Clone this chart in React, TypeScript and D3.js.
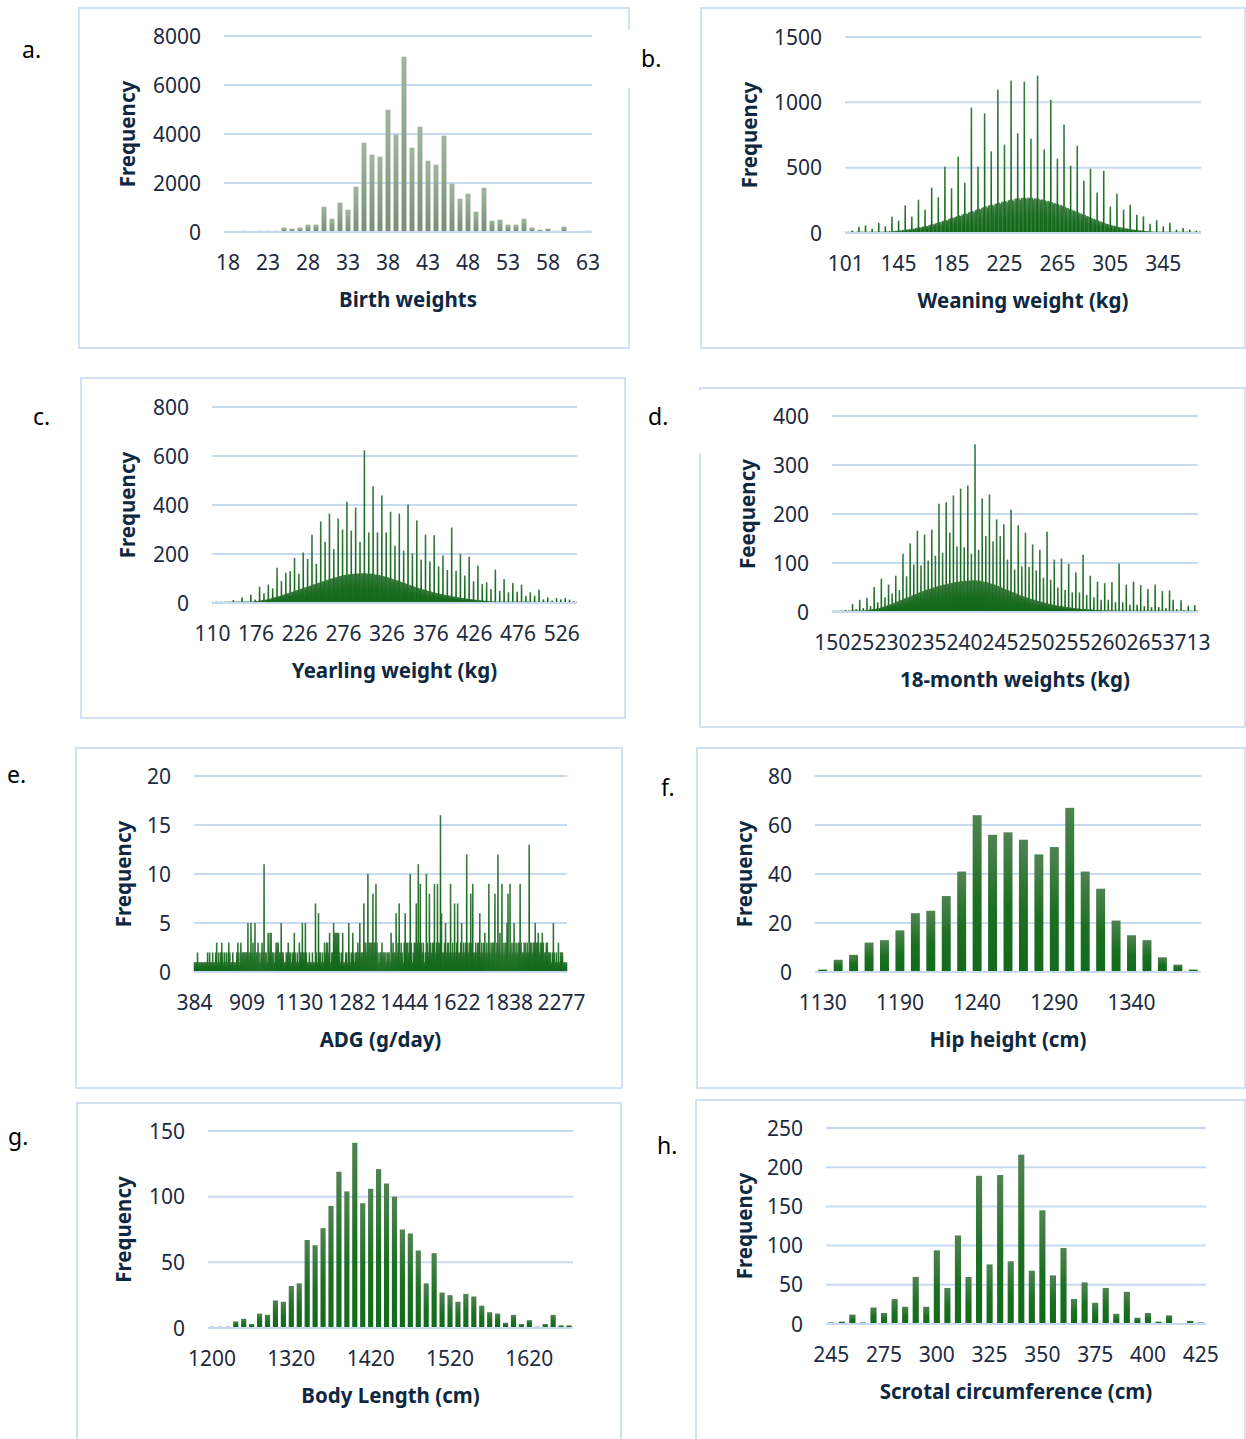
import React from 'react';
import * as d3 from 'd3';

// ---------- DATA ----------
const birthFreq = [0,0,30,0,20,20,20,177,136,177,300,300,1034,544,1197,911,1850,3646,3156,3075,4993,3973,7156,3442,4299,2911,2748,3932,1973,1360,1565,830,1810,463,503,300,300,544,177,95,136,54,218,0,0,54];
const birthTicks = ['18','23','28','33','38','43','48','53','58','63'];

const weanFreq = [
3,0,1,0,2,18,1,0,2,3,
48,2,4,1,3,59,2,5,3,4,
33,6,4,8,5,79,7,9,6,10,
51,12,10,14,11,125,15,13,18,16,
94,20,18,24,22,212,27,25,30,28,
125,34,31,38,40,255,44,42,48,50,
179,55,52,60,64,347,68,66,74,78,
273,84,82,90,95,508,100,96,108,112,
342,118,115,124,128,584,135,130,140,146,
385,150,146,158,162,959,168,160,175,180,
508,186,180,192,198,916,204,196,210,214,
625,216,208,222,228,1097,232,224,238,240,
676,244,236,250,254,1166,256,246,262,264,
763,266,256,268,270,1158,270,260,272,268,
722,270,258,266,264,1204,262,252,258,254,
640,250,240,246,240,1020,236,226,230,224,
569,220,210,214,206,829,200,190,192,184,
515,180,170,172,164,668,158,150,150,142,
401,138,128,130,122,492,116,108,108,100,
309,96,88,88,82,477,76,70,70,64,
202,60,56,56,52,301,48,44,44,40,
179,38,34,34,31,217,28,26,26,24,
140,22,20,20,18,128,16,15,14,13,
71,12,11,10,9,99,9,8,7,7,
51,6,5,5,4,79,4,3,3,3,
26,2,2,3,1,38,2,1,1,2,
26,1,0,1,1,18,0,1,2];
const weanTicks = ['101','145','185','225','265','305','345'];

const yearFreq = [
1,0,0,0,2,0,1,0,0,1,
0,1,0,0,5,0,1,0,2,1,
1,0,2,1,12,1,0,2,1,3,
2,1,3,2,23,2,3,1,4,6,
3,4,2,5,34,4,6,5,7,14,
6,8,7,9,67,10,9,12,11,40,
12,14,13,15,75,16,18,17,20,60,
21,23,22,25,144,26,28,27,30,90,
32,34,33,36,124,38,40,39,42,130,
44,46,45,48,184,50,52,51,54,120,
56,58,57,60,206,62,64,63,66,180,
68,70,69,72,279,74,76,75,78,160,
80,82,81,84,333,86,88,87,90,250,
92,94,93,96,365,98,100,98,102,220,
104,105,103,106,345,108,110,108,112,300,
113,114,112,115,414,116,117,115,118,296,
118,119,117,120,390,121,120,118,121,250,
120,121,119,122,623,122,120,118,121,288,
119,120,117,119,476,118,116,114,116,288,
114,114,111,113,439,111,109,107,108,288,
106,105,102,103,373,101,98,96,97,234,
94,93,90,91,365,88,86,84,84,214,
82,80,78,78,402,75,73,71,71,203,
69,67,65,65,337,63,61,59,59,177,
57,56,54,54,279,52,50,49,49,170,
47,46,44,44,277,42,41,40,40,150,
38,37,36,36,194,34,33,32,32,135,
31,30,29,29,308,27,26,26,25,132,
24,23,23,22,200,21,20,20,19,112,
18,18,17,17,189,16,15,15,14,89,
14,13,13,12,153,12,11,11,10,78,
10,9,9,9,85,8,8,7,7,57,
7,6,6,6,136,5,5,5,5,50,
4,4,4,4,98,3,3,3,3,44,
3,3,2,2,82,2,2,2,2,46,
2,2,1,2,75,1,1,2,1,30,
1,1,1,1,44,1,0,1,1,30,
1,0,1,0,55,1,0,0,1,15,
0,1,0,1,23,0,0,1,0,10,
1,0,0,0,20,0,1,0,0,15,
0,0,1,0,20,0,0,0,1,14,
0,0,0,1,7,0,0,1];
const yearTicks = ['110','176','226','276','326','376','426','476','526'];

const m18Freq = [
1,0,0,1,0,0,1,0,2,0,
0,1,0,2,0,1,0,0,4,1,
1,0,1,3,1,0,2,1,16,1,
2,1,1,6,2,1,2,2,25,2,
2,3,2,8,3,2,3,4,29,3,
4,3,5,12,4,5,6,5,51,6,
6,7,6,20,7,8,8,9,68,9,
10,11,10,30,12,12,13,14,56,14,
15,16,15,38,17,18,18,19,74,20,
21,22,21,45,23,24,24,25,119,26,
27,28,27,73,29,30,30,31,140,32,
33,34,33,97,35,36,36,37,166,38,
39,40,39,95,41,42,42,43,158,44,
45,46,44,105,46,47,47,48,168,49,
50,50,49,115,51,52,52,52,221,53,
54,54,52,121,55,56,55,56,224,57,
57,58,56,162,58,59,58,59,238,60,
60,61,59,134,61,62,61,62,252,62,
63,63,61,132,63,64,62,63,258,64,
64,64,62,119,64,65,63,64,342,64,
64,64,62,127,63,64,62,62,232,62,
62,61,60,155,60,61,59,59,240,58,
58,57,56,144,56,56,54,54,189,53,
53,52,50,155,50,50,48,48,179,47,
46,46,44,107,44,44,42,42,209,41,
40,40,38,87,38,38,36,36,177,35,
34,34,33,93,32,32,31,31,162,30,
29,29,28,92,27,27,26,26,138,25,
25,24,24,85,23,23,22,22,127,21,
21,20,20,70,19,19,18,18,164,17,
17,16,16,66,15,15,15,14,107,14,
14,13,13,50,13,12,12,12,109,11,
11,11,10,45,10,10,10,9,98,9,
9,9,8,40,8,8,8,8,81,7,
7,7,7,40,7,6,6,6,117,6,
6,6,5,35,5,5,5,5,74,5,
5,5,4,30,4,4,4,4,62,4,
4,4,4,25,4,3,3,3,59,3,
3,3,3,25,3,3,3,3,61,3,
3,3,2,20,3,2,2,3,99,2,
2,3,2,20,2,2,2,2,56,2,
2,2,2,15,2,2,1,2,62,2,
2,1,2,15,1,2,1,2,55,1,
1,2,1,12,1,1,2,1,47,1,
1,1,1,10,1,2,1,1,56,1,
1,1,1,10,1,1,1,0,43,1,
1,0,1,8,1,1,0,1,44,1,
0,1,1,25,1,0,1,0,6,1,
1,0,1,0,24,1,0,1,4,0,
1,0,1,0,13,1,0,1,2,1,
0,1,0,14,1,0,1,2];
const m18Ticks = ['150','252','302','352','402','452','502','552','602','653','713'];

const adgFreq = [
1,1,1,2,1,1,1,1,1,1,
1,1,1,2,1,2,1,1,2,1,
1,2,3,1,2,1,2,3,2,1,
2,1,2,1,3,2,1,1,2,1,
1,1,2,3,2,1,3,2,2,2,
2,2,2,5,2,2,5,2,3,2,
5,2,2,3,2,1,2,3,2,11,
2,2,1,4,2,4,4,2,2,1,
2,3,3,3,2,2,5,2,2,1,
1,2,2,3,2,2,1,2,2,4,
2,1,2,1,3,2,2,5,2,2,
5,2,1,1,2,1,1,2,1,1,
7,2,1,6,2,2,1,2,1,3,
2,3,3,2,4,1,2,2,5,4,
4,4,4,4,2,1,2,4,1,1,
2,2,1,5,2,1,2,4,2,1,
2,2,3,2,5,2,2,2,7,3,
3,2,10,3,3,3,3,8,3,3,
9,3,2,1,2,2,3,2,2,2,
1,2,2,2,1,4,2,3,2,2,
6,2,3,7,2,3,2,1,3,6,
3,3,2,3,10,3,1,2,3,3,
7,3,11,3,9,3,2,3,1,2,
10,3,2,8,3,2,3,3,9,2,
3,9,3,3,16,6,2,2,3,5,
2,3,3,2,9,2,3,2,7,2,
3,7,2,2,3,5,2,3,2,3,
12,3,2,3,8,3,9,2,2,3,
2,3,3,6,2,3,2,3,4,2,
3,2,9,3,2,3,3,3,8,2,
3,12,3,4,2,9,3,2,3,3,
5,8,2,9,3,2,3,5,2,3,
2,3,3,9,3,2,2,3,3,2,
3,2,13,3,3,2,3,3,5,3,
3,4,2,3,3,4,3,2,2,3,
3,2,2,2,1,2,5,2,1,2,
1,3,1,2,2,2,1,1,1,1];
const adgTicks = ['384','909','1130','1282','1444','1622','1838','2277'];

const hipFreq = [1,5,7,12,13,17,24,25,31,41,64,56,57,54,48,51,67,41,34,21,15,13,6,3,1];
const hipTicks = ['1130','1190','1240','1290','1340'];

const bodyFreq = [1,1,1,5,7,3,11,10,21,20,32,34,67,63,76,93,119,104,141,95,106,121,110,100,75,72,59,34,57,27,25,20,26,24,17,12,11,4,10,3,6,1,3,10,2,2];
const bodyTicks = ['1200','1320','1420','1520','1620'];

const scrotalFreq = [2,3,12,2,21,14,32,22,60,22,94,46,113,60,189,76,190,80,216,68,145,62,97,32,53,27,46,13,41,8,14,3,11,0,4,2];
const scrotalTicks = ['245','275','300','325','350','375','400','425'];

// ---------- LAYOUT ----------
type PanelCfg = {
  letter: string; lx: number; ly: number;
  frame: [number, number, number, number];
  x0: number; x1: number; yTop: number; yBottom: number;
  yMax: number; yTicks: number[];
  values: number[]; ticks: string[]; tickStep: number;
  dense: boolean; pad: number; grad: string;
  xTitle: string; yTitle: string; yTitleX: number;
};

const panels: PanelCfg[] = [
  { letter: 'a.', lx: 22, ly: 58, frame: [79, 8, 550, 340], x0: 224, x1: 592, yTop: 36, yBottom: 232,
    yMax: 8000, yTicks: [0, 2000, 4000, 6000, 8000], values: birthFreq, ticks: birthTicks, tickStep: 5,
    dense: false, pad: 0.38, grad: 'gSage', xTitle: 'Birth weights', yTitle: 'Frequency', yTitleX: 128 },
  { letter: 'b.', lx: 641, ly: 67, frame: [701, 8, 544, 340], x0: 845, x1: 1201, yTop: 37, yBottom: 233,
    yMax: 1500, yTicks: [0, 500, 1000, 1500], values: weanFreq, ticks: weanTicks, tickStep: 40,
    dense: true, pad: 0, grad: 'gDense', xTitle: 'Weaning weight (kg)', yTitle: 'Frequency', yTitleX: 750 },
  { letter: 'c.', lx: 33, ly: 425, frame: [81, 378, 544, 340], x0: 212, x1: 577, yTop: 407, yBottom: 603,
    yMax: 800, yTicks: [0, 200, 400, 600, 800], values: yearFreq, ticks: yearTicks, tickStep: 50,
    dense: true, pad: 0, grad: 'gDense', xTitle: 'Yearling weight (kg)', yTitle: 'Frequency', yTitleX: 128 },
  { letter: 'd.', lx: 648, ly: 425, frame: [700, 388, 545, 339], x0: 832, x1: 1198, yTop: 416, yBottom: 612,
    yMax: 400, yTicks: [0, 100, 200, 300, 400], values: m18Freq, ticks: m18Ticks, tickStep: 50,
    dense: true, pad: 0, grad: 'gDense', xTitle: '18-month weights (kg)', yTitle: 'Feequency', yTitleX: 748 },
  { letter: 'e.', lx: 7, ly: 783, frame: [76, 748, 546, 340], x0: 194, x1: 567, yTop: 776, yBottom: 972,
    yMax: 20, yTicks: [0, 5, 10, 15, 20], values: adgFreq, ticks: adgTicks, tickStep: 52,
    dense: true, pad: 0, grad: 'gDense', xTitle: 'ADG (g/day)', yTitle: 'Frequency', yTitleX: 124 },
  { letter: 'f.', lx: 661, ly: 796, frame: [697, 748, 548, 340], x0: 815, x1: 1201, yTop: 776, yBottom: 972,
    yMax: 80, yTicks: [0, 20, 40, 60, 80], values: hipFreq, ticks: hipTicks, tickStep: 5,
    dense: false, pad: 0.42, grad: 'gGreen', xTitle: 'Hip height (cm)', yTitle: 'Frequency', yTitleX: 745 },
  { letter: 'g.', lx: 8, ly: 1145, frame: [77, 1103, 544, 345], x0: 208, x1: 573, yTop: 1131, yBottom: 1328,
    yMax: 150, yTicks: [0, 50, 100, 150], values: bodyFreq, ticks: bodyTicks, tickStep: 10,
    dense: false, pad: 0.35, grad: 'gGreen', xTitle: 'Body Length (cm)', yTitle: 'Frequency', yTitleX: 124 },
  { letter: 'h.', lx: 657, ly: 1154, frame: [696, 1100, 549, 345], x0: 826, x1: 1206, yTop: 1128, yBottom: 1324,
    yMax: 250, yTicks: [0, 50, 100, 150, 200, 250], values: scrotalFreq, ticks: scrotalTicks, tickStep: 5,
    dense: false, pad: 0.42, grad: 'gGreen', xTitle: 'Scrotal circumference (cm)', yTitle: 'Frequency', yTitleX: 745 },
];

const FONT = "'Noto Sans', 'Open Sans', 'DejaVu Sans', sans-serif";
const GRID = '#c7daf1';
const TICK = '#1d2a40';
const TITLE = '#0e2841';

function Panel({ p }: { p: PanelCfg }) {
  const n = p.values.length;
  const x = d3.scaleBand<number>().domain(d3.range(n)).range([p.x0, p.x1])
    .paddingInner(p.pad).paddingOuter(p.pad / 2);
  const y = d3.scaleLinear().domain([0, p.yMax]).range([p.yBottom, p.yTop]);
  const step = x.step();
  const bw = x.bandwidth();
  const w = p.dense ? Math.max(step, 1.6) : bw;
  const [fx, fy, fw, fh] = p.frame;
  return (
    <g>
      <rect x={fx} y={fy} width={fw} height={fh} fill="white" stroke={GRID} strokeWidth={1.6} />
      {p.yTicks.map((t) => (
        <line key={'g' + t} x1={p.x0} x2={p.x1} y1={y(t)} y2={y(t)} stroke={GRID} strokeWidth={2} />
      ))}
      {p.values.map((v, i) => {
        if (v <= 0) return null;
        const cx = (x(i) as number) + bw / 2;
        const top = y(v);
        const h = Math.max(y(0) - 1 - top, 0.3);
        return <rect key={i} x={cx - w / 2} y={y(0) - 1 - h} width={w} height={h} fill={`url(#${p.grad})`} />;
      })}
      {p.yTicks.map((t) => (
        <text key={'y' + t} x={p.x0 - 23} y={y(t)} dy="0.36em" textAnchor="end"
          fontFamily={FONT} fontSize={21} fill={TICK}>{t}</text>
      ))}
      {p.ticks.map((t, k) => {
        const i = k * p.tickStep;
        const cx = (x(i) as number) + bw / 2;
        return (
          <text key={'x' + k} x={cx} y={p.yBottom + 38} textAnchor="middle"
            fontFamily={FONT} fontSize={21} fill={TICK}>{t}</text>
        );
      })}
      <text x={(p.x0 + p.x1) / 2} y={p.yBottom + 75} textAnchor="middle" fontFamily={FONT}
        fontSize={20.5} fontWeight={700} fill={TITLE}>{p.xTitle}</text>
      <text transform={`translate(${p.yTitleX},${(p.yTop + p.yBottom) / 2}) rotate(-90)`} textAnchor="middle"
        dy="0.36em" fontFamily={FONT} fontSize={20.5} fontWeight={700} fill={TITLE}>{p.yTitle}</text>
      <text x={p.lx} y={p.ly} fontFamily={FONT} fontSize={23} fill="#000">{p.letter}</text>
    </g>
  );
}

export default function App() {
  return (
    <div style={{ position: 'absolute', left: 0, top: 0 }}>
      <svg width={1246} height={1439} viewBox="0 0 1246 1439" style={{ display: 'block', background: 'white' }}>
        <defs>
          <linearGradient id="gSage" x1="0" y1="0" x2="0" y2="1">
            <stop offset="0" stopColor="#a2b69f" />
            <stop offset="1" stopColor="#779175" />
          </linearGradient>
          <linearGradient id="gGreen" x1="0" y1="0" x2="0" y2="1">
            <stop offset="0" stopColor="#518353" />
            <stop offset="0.55" stopColor="#1b6f21" />
            <stop offset="1" stopColor="#136a1a" />
          </linearGradient>
          <linearGradient id="gDense" x1="0" y1="0" x2="0" y2="1">
            <stop offset="0" stopColor="#3e7a42" />
            <stop offset="0.5" stopColor="#1a6d20" />
            <stop offset="1" stopColor="#116818" />
          </linearGradient>
        </defs>
        <rect x={0} y={0} width={1246} height={1439} fill="white" />
        {panels.map((p) => <Panel key={p.letter} p={p} />)}
        {/* gaps in frame borders */}
        <rect x={624} y={30} width={10} height={58} fill="white" />
        <rect x={694} y={390} width={12} height={63} fill="white" />
      </svg>
    </div>
  );
}
